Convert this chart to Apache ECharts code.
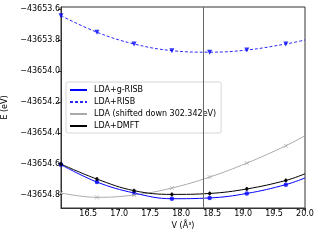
<!DOCTYPE html>
<html><head><meta charset="utf-8">
<script src="https://cdn.jsdelivr.net/npm/echarts@6/dist/echarts.min.js"></script>
<style>html,body{margin:0;padding:0;background:#fff}#c{width:320px;height:240px}</style>
</head><body><div id="c"></div>
<script>
// ---- data ----
var volumes = [16.06, 16.64, 17.24, 17.85, 18.46, 19.06, 19.69];
var curveEndV = 20.0;
var eGRisb = [-43654.606, -43654.718, -43654.789, -43654.826, -43654.821, -43654.792, -43654.735];
var eGRisbEnd = -43654.692;
var eRisb = [-43653.643, -43653.750, -43653.826, -43653.869, -43653.879, -43653.865, -43653.826];
var eRisbEnd = -43653.800;
var eLda = [-43654.789, -43654.817, -43654.802, -43654.757, -43654.686, -43654.596, -43654.484];
var eLdaEnd = -43654.419;
var eDmft = [-43654.602, -43654.699, -43654.774, -43654.798, -43654.792, -43654.763, -43654.708];
var eDmftEnd = -43654.665;
var dmftErr = [0.012, 0.012, 0.012, 0.012, 0.012, 0.012, 0.012];
var eqVolume = 18.35;
var xTicks = [16.5, 17.0, 17.5, 18.0, 18.5, 19.0, 19.5, 20.0];
var yTicks = [-43653.6, -43653.8, -43654.0, -43654.2, -43654.4, -43654.6, -43654.8];
var seriesNames = ['LDA+g-RISB', 'LDA+RISB', 'LDA (shifted down 302.342eV)', 'LDA+DMFT'];

function pts(vs, es, endV, endE) {
  var a = vs.map(function (v, i) { return [v, es[i]]; });
  if (endV != null) a.push([endV, endE]);
  return a;
}
var FONT = 'DejaVu Sans';
var chart = echarts.init(document.getElementById('c'), null, {renderer: 'canvas'});
var xMark = 'path://M0,0L10,10M10,0L0,10';

var option = {
  animation: false,
  textStyle: {fontFamily: FONT},
  grid: {left: 61, right: 15, top: 7, bottom: 32, show: true, borderColor: '#333', borderWidth: 1,
    containLabel: false, outerBoundsMode: 'none'},
  xAxis: {
    type: 'value', min: 16.06, max: 20.0,
    name: 'V (Å³)', nameLocation: 'middle', nameGap: 14,
    nameTextStyle: {fontFamily: FONT, fontSize: 8, color: '#000'},
    axisLine: {show: true, onZero: false, lineStyle: {color: '#333', width: 1}},
    axisTick: {show: true, inside: false, length: 3, lineStyle: {color: '#333'}, customValues: xTicks},
    axisLabel: {customValues: xTicks, fontFamily: FONT, fontSize: 8, color: '#000', margin: 1.5,
      formatter: function (v) { return v.toFixed(1); }},
    splitLine: {show: false}
  },
  yAxis: {
    type: 'value', min: -43654.886, max: -43653.587,
    name: 'E (eV)', nameLocation: 'middle', nameGap: 49, nameRotate: 90,
    nameTextStyle: {fontFamily: FONT, fontSize: 8, color: '#000'},
    axisLine: {show: true, onZero: false, lineStyle: {color: '#333', width: 1}},
    axisTick: {show: true, inside: false, length: 3, lineStyle: {color: '#333'}, customValues: yTicks},
    axisLabel: {customValues: yTicks, fontFamily: FONT, fontSize: 8, color: '#000', margin: 1,
      formatter: function (v) { return v.toFixed(1).replace('-', '\u2212'); }},
    splitLine: {show: false}
  },
  legend: {
    orient: 'vertical', left: 66, top: 82,
    data: seriesNames,
    itemWidth: 17, itemHeight: 8, itemGap: 4,
    padding: [4, 5, 3, 3],
    itemStyle: {opacity: 0},
    backgroundColor: 'rgba(255,255,255,0.85)', borderColor: '#d6d6d6', borderWidth: 1, borderRadius: 2,
    textStyle: {fontFamily: FONT, fontSize: 8, color: '#000', padding: [0, 0, 0, 2]}
  },
  series: [
    {name: seriesNames[0], type: 'line', data: pts(volumes, eGRisb, curveEndV, eGRisbEnd), smooth: 0.4,
      symbol: 'none', lineStyle: {color: '#0000ff', width: 1}, itemStyle: {color: '#0000ff'}, z: 3,
      markLine: {silent: true, symbol: 'none', label: {show: false}, animation: false,
        lineStyle: {color: '#666', width: 1, type: 'solid'}, data: [{xAxis: eqVolume}]}},
    {name: seriesNames[1], type: 'line', data: pts(volumes, eRisb, curveEndV, eRisbEnd), smooth: 0.4,
      symbol: 'none', lineStyle: {color: '#2a2aff', width: 1, type: [3, 2]}, itemStyle: {color: '#2a2aff'}, z: 3},
    {name: seriesNames[2], type: 'line', data: pts(volumes, eLda, curveEndV, eLdaEnd), smooth: 0.4,
      symbol: 'none', lineStyle: {color: '#aaaaaa', width: 1}, itemStyle: {color: '#aaaaaa'}, z: 2},
    {name: seriesNames[3], type: 'line', data: pts(volumes, eDmft, curveEndV, eDmftEnd), smooth: 0.4,
      symbol: 'none', lineStyle: {color: '#000', width: 1}, itemStyle: {color: '#000'}, z: 3},
    {type: 'scatter', data: pts(volumes, eGRisb), symbol: 'circle', symbolSize: 4.5,
      itemStyle: {color: '#0000ff'}, z: 4, silent: true},
    {type: 'scatter', data: pts(volumes, eRisb), symbol: 'triangle', symbolRotate: 180, symbolSize: 5,
      itemStyle: {color: '#0000ff'}, z: 4, silent: true},
    {type: 'scatter', data: pts(volumes, eLda), symbol: xMark, symbolSize: 4,
      itemStyle: {color: 'none', borderColor: '#aaaaaa', borderWidth: 1}, z: 4, silent: true},
    {type: 'scatter', data: pts(volumes, eDmft), symbol: 'circle', symbolSize: 3.5,
      itemStyle: {color: '#000'}, z: 5, silent: true},
    {type: 'custom', z: 5, silent: true,
      data: volumes.map(function (v, i) { return [v, eDmft[i] - dmftErr[i], eDmft[i] + dmftErr[i]]; }),
      encode: {x: 0, y: [1, 2]},
      renderItem: function (params, api) {
        var lo = api.coord([api.value(0), api.value(1)]);
        var hi = api.coord([api.value(0), api.value(2)]);
        return {type: 'line', shape: {x1: lo[0], y1: lo[1], x2: hi[0], y2: hi[1]},
          style: {stroke: '#000', lineWidth: 1.3}};
      }}
  ]
};
chart.setOption(option);
</script></body></html>
